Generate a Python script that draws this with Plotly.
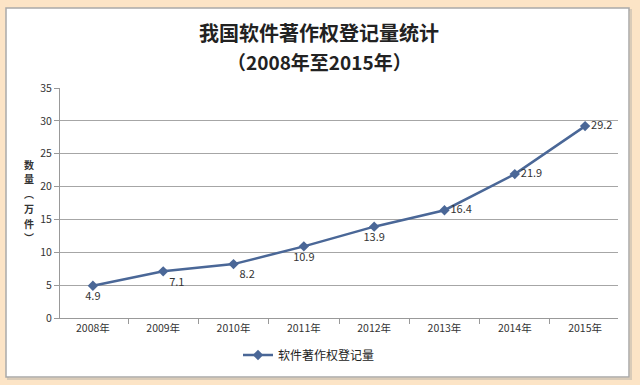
import plotly.graph_objects as go

years = ["2008年", "2009年", "2010年", "2011年", "2012年", "2013年", "2014年", "2015年"]
values = [4.9, 7.1, 8.2, 10.9, 13.9, 16.4, 21.9, 29.2]
labels = ["4.9", "7.1", "8.2", "10.9", "13.9", "16.4", "21.9", "29.2"]
label_pos = ["bottom center", "bottom right", "bottom right", "bottom center",
             "bottom center", "middle right", "middle right", "middle right"]
series_name = "软件著作权登记量"
title_lines = ["我国软件著作权登记量统计", "（2008年至2015年）"]
y_title_chars = ["数", "量", "︵", "万", "件", "︶"]

FONT = "Noto Sans CJK SC"
LINE = "#4A6797"
BG = "#FCE4C6"

fig = go.Figure()
fig.add_trace(go.Scatter(
    x=years, y=values, mode="lines+markers+text", name=series_name,
    line=dict(color=LINE, width=2.5),
    marker=dict(symbol="diamond", size=8, color=LINE),
    text=labels, textposition=label_pos,
    textfont=dict(family=FONT, size=11, color="#333333"),
    cliponaxis=False,
))

L, R, T, B = 60, 22, 88, 67
W, H = 640, 385
pw, ph = W - L - R, H - T - B

def px(x):
    return (x - L) / pw

def py(y):
    return (H - B - y) / ph

fig.add_shape(type="rect", xref="paper", yref="paper",
              x0=px(8), x1=px(631), y0=py(379), y1=py(10),
              line=dict(color="#D9CBB8", width=2), fillcolor="rgba(0,0,0,0)", layer="below")
fig.add_shape(type="rect", xref="paper", yref="paper",
              x0=px(6), x1=px(629), y0=py(377), y1=py(8),
              line=dict(color="#A9A9A9", width=1.5), fillcolor="white", layer="below")

fig.add_annotation(text="<b>" + title_lines[0] + "</b>", xref="paper", yref="paper",
                   x=px(319), y=py(32), xanchor="center", yanchor="middle", showarrow=False,
                   font=dict(family=FONT, size=20, color="#222222"))
fig.add_annotation(text="<b>" + title_lines[1] + "</b>", xref="paper", yref="paper",
                   x=px(319), y=py(61), xanchor="center", yanchor="middle", showarrow=False,
                   font=dict(family=FONT, size=19, color="#222222"))

step = 14.7
for i, ch in enumerate(y_title_chars):
    cy = 201 + (i - 2.5) * step
    fig.add_annotation(text="<b>" + ch + "</b>", xref="paper", yref="paper",
                       x=px(29), y=py(cy), xanchor="center", yanchor="middle",
                       showarrow=False, borderpad=0,
                       font=dict(family=FONT, size=10, color="#333333"))

fig.update_layout(
    width=W, height=H,
    margin=dict(l=L, r=R, t=T, b=B, autoexpand=False),
    paper_bgcolor=BG,
    plot_bgcolor="rgba(0,0,0,0)",
    showlegend=True,
    legend=dict(orientation="h", x=px(238), xanchor="left", y=py(355), yanchor="middle",
                font=dict(family=FONT, size=12, color="#222222"),
                bgcolor="rgba(0,0,0,0)"),
    font=dict(family=FONT),
)
fig.update_xaxes(
    showgrid=False, showline=True, linecolor="#999999", linewidth=1,
    ticks="outside", tickson="boundaries", ticklen=5, tickcolor="#999999",
    tickfont=dict(family=FONT, size=10.5, color="#333333"),
    fixedrange=True, automargin=False,
)
fig.update_yaxes(
    range=[0, 35], dtick=5, showgrid=True, gridcolor="#A6A6A6", gridwidth=1,
    showline=True, linecolor="#999999", linewidth=1,
    ticks="outside", ticklen=5, tickcolor="#999999",
    tickfont=dict(family=FONT, size=10.5, color="#333333"),
    zeroline=False, fixedrange=True, automargin=False,
)

fig.write_html(
    "out.html",
    config={"displayModeBar": False},
    post_script="document.body.style.margin='0';document.body.style.background='" + BG + "';",
)
